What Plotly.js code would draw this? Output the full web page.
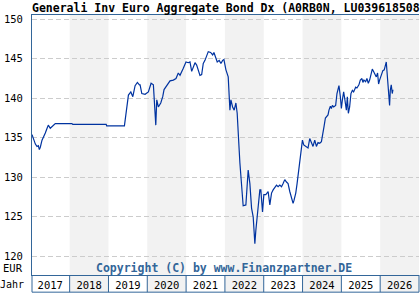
<!DOCTYPE html>
<html><head><meta charset="utf-8">
<script src="https://cdn.plot.ly/plotly-3.0.1.min.js"></script>
<style>html,body{margin:0;padding:0;background:#fff}#chart{width:420px;height:300px}</style>
</head><body><div id="chart"></div>
<script>
// time in decimal years, price in EUR
const t = [2017.031,2017.116,2017.159,2017.193,2017.219,2017.244,2017.288,2017.321,2017.373,2017.411,2017.450,2017.501,2017.571,2017.630,
2018.059,2018.080,2018.941,2018.954,2019.411,2019.455,2019.514,2019.576,2019.627,2019.686,2019.745,2019.797,2019.815,2019.859,2019.943,
2020.028,2020.098,2020.157,2020.200,2020.219,2020.244,2020.285,2020.347,2020.398,2020.432,2020.517,2020.586,2020.671,2020.740,2020.799,2020.843,2020.928,2020.997,
2021.057,2021.100,2021.144,2021.185,2021.229,2021.272,2021.314,2021.357,2021.401,2021.442,2021.486,2021.530,2021.571,2021.632,2021.684,2021.717,2021.769,2021.802,2021.853,2021.897,2021.941,2021.974,
2022.026,2022.085,2022.111,2022.129,2022.154,2022.198,2022.239,2022.283,2022.316,2022.342,2022.368,2022.386,2022.429,2022.470,2022.540,2022.573,2022.599,2022.643,2022.686,2022.728,2022.771,2022.797,2022.830,2022.866,2022.900,2022.925,2022.969,
2023.003,2023.054,2023.113,2023.157,2023.201,2023.242,2023.329,2023.370,2023.414,2023.458,2023.499,2023.542,2023.586,2023.627,2023.671,2023.715,2023.756,2023.781,2023.825,2023.859,2023.884,2023.910,2023.946,2023.972,2023.997,
2024.031,2024.082,2024.141,2024.185,2024.229,2024.270,2024.314,2024.357,2024.398,2024.442,2024.486,2024.527,2024.553,2024.589,2024.630,2024.656,2024.681,2024.717,2024.743,2024.769,2024.802,2024.853,2024.887,2024.913,2024.938,2024.974,
2025.000,2025.026,2025.059,2025.085,2025.111,2025.129,2025.154,2025.180,2025.213,2025.247,2025.283,2025.316,2025.368,2025.401,2025.452,2025.488,2025.530,2025.555,2025.581,2025.625,2025.658,2025.694,2025.728,2025.771,2025.797,2025.830,2025.864,2025.900,2025.933,2025.959,2025.985,
2026.028,2026.069,2026.105,2026.139,2026.157,2026.172,2026.198,2026.224,2026.242,2026.260,2026.285,2026.311,2026.329];
const price = [135.4,134.2,133.9,134.0,133.5,133.8,134.7,135.0,135.6,136.1,136.6,136.2,136.6,136.8,
136.8,136.7,136.7,136.5,136.5,138.5,140.4,140.8,140.2,141.6,142.0,141.7,141.7,140.6,140.5,
140.8,141.9,141.7,138.9,136.6,139.8,138.9,139.4,140.2,141.1,141.7,142.2,142.3,142.5,143.2,142.9,143.8,144.6,
144.5,144.6,143.4,144.0,144.5,144.2,143.6,142.9,143.0,144.4,144.8,145.5,145.9,145.8,145.5,145.8,145.1,144.6,144.8,144.4,144.8,144.9,
143.6,142.7,140.2,138.5,139.8,138.9,138.5,139.4,138.1,134.7,133.4,131.8,128.4,126.4,126.5,128.8,130.9,129.2,126.1,125.0,121.6,123.3,125.0,127.1,128.4,128.4,125.6,
127.8,127.8,128.2,126.5,128.0,128.4,129.0,128.8,129.0,128.8,129.2,129.7,129.4,129.2,128.2,127.5,126.7,127.1,128.0,129.2,130.3,131.3,133.1,133.7,134.7,
134.1,133.9,133.7,134.9,134.3,133.9,134.7,133.9,134.4,134.3,134.5,135.4,136.4,137.5,137.7,137.9,138.5,139.0,138.7,139.1,138.9,139.1,140.6,141.3,141.6,140.2,
138.7,139.8,140.8,140.0,139.0,138.5,140.2,138.1,138.9,140.6,141.0,140.8,141.4,141.3,141.7,142.3,142.5,142.0,142.3,142.1,142.5,141.9,142.3,143.4,143.7,143.4,143.1,142.7,143.2,141.8,142.3,
142.9,143.5,143.6,144.4,144.6,143.6,141.9,140.2,139.1,141.0,141.7,140.6,141.1];
const years = [2017,2018,2019,2020,2021,2022,2023,2024,2025,2026];
const yTicks = [120,125,130,135,140,145,150];
const titleText = 'Generali Inv Euro Aggregate Bond Dx (A0RB0N, LU0396185087)';

const frame = '#336699';
const bandBottom = -0.066;
const shapes = [];
years.forEach((y, i) => {
  if (i % 2 === 1) {
    shapes.push({type:'rect', xref:'x', yref:'paper', x0:y, x1:y+1, y0:bandBottom, y1:1,
      fillcolor:'#f2f2f2', line:{width:0}, layer:'below'});
  }
  if (i > 0) {
    shapes.push({type:'line', xref:'x', yref:'paper', x0:y, x1:y, y0:bandBottom, y1:0,
      line:{color:frame, width:1}});
  }
});
shapes.push({type:'line', xref:'paper', yref:'paper', x0:0, x1:1, y0:bandBottom, y1:bandBottom, line:{color:frame, width:1}});
shapes.push({type:'line', xref:'paper', yref:'paper', x0:0, x1:0, y0:bandBottom, y1:0, line:{color:frame, width:1}});
shapes.push({type:'line', xref:'paper', yref:'paper', x0:1, x1:1, y0:bandBottom, y1:0, line:{color:frame, width:1}});

const mono = '"DejaVu Sans Mono", monospace';
Plotly.newPlot('chart', [{
  x: t, y: price, type:'scatter', mode:'lines',
  line:{color:'#0033a0', width:1.2}, hoverinfo:'skip'
}], {
  width:420, height:300,
  margin:{l:32, r:1, t:15, b:25, pad:0},
  paper_bgcolor:'#fff', plot_bgcolor:'rgba(0,0,0,0)',
  showlegend:false,
  title:{text:titleText, font:{family:mono, size:11.5, color:'#000', weight:'bold'},
    xref:'paper', x:0, xanchor:'left', yref:'container', y:0.972, yanchor:'middle'},
  xaxis:{range:[2017.03, 2027], showgrid:false, zeroline:false,
    showline:true, linecolor:frame, linewidth:1, mirror:true,
    tickmode:'array', tickvals:years.map(y=>y+0.5), ticktext:years.map(String),
    ticks:'', ticklen:0,
    tickfont:{family:mono, size:10.5, color:'#000'}},
  yaxis:{range:[117.63, 150.54], showgrid:true, gridcolor:'#cccccc', griddash:'5px,3px', gridwidth:1,
    zeroline:false, showline:true, linecolor:frame, linewidth:1,
    tickmode:'array', tickvals:yTicks,
    ticks:'outside', ticklen:6, tickcolor:'rgba(0,0,0,0)',
    tickfont:{family:mono, size:10.5, color:'#000'}},
  shapes: shapes,
  annotations:[
    {text:'EUR', xref:'paper', yref:'paper', x:0, y:(275-268)/260, xanchor:'right', yanchor:'middle', xshift:-7,
      showarrow:false, font:{family:mono, size:10.5, color:'#000'}},
    {text:'Jahr', xref:'paper', yref:'paper', x:0, y:(275-284)/260, xanchor:'right', yanchor:'middle', xshift:-6,
      showarrow:false, font:{family:mono, size:10, color:'#000'}},
    {text:'Copyright (C) by www.Finanzpartner.DE', xref:'paper', yref:'paper', x:(224-32)/387, y:(275-268)/260,
      xanchor:'center', yanchor:'middle', showarrow:false,
      font:{family:mono, size:11.5, color:'#336699', weight:'bold'}}
  ]
}, {displayModeBar:false, staticPlot:true});
</script></body></html>
